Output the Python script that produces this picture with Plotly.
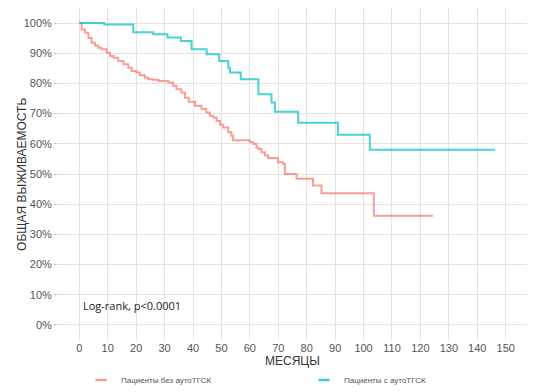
import plotly.graph_objects as go

# Kaplan-Meier estimates (months, survival fraction)
months_no_asct = [0, 0.8, 2.0, 3.2, 4.3, 5.5, 6.7, 7.8, 9.6, 10.8, 12.0, 13.7, 15.5, 17.2,
                  18.4, 20.1, 21.3, 23.1, 24.3, 26.0, 27.8, 31.3, 33.0, 34.2, 35.9, 37.2,
                  38.5, 40.7, 43.0, 44.7, 45.9, 47.1, 48.3, 49.5, 50.6, 52.4, 53.5, 54.1,
                  60.0, 61.2, 62.3, 63.0, 64.1, 65.3, 66.4, 69.9, 71.7, 72.3, 76.4, 82.2,
                  85.2, 103.6, 124.4]
surv_no_asct = [1.000, 0.979, 0.968, 0.951, 0.935, 0.926, 0.918, 0.913, 0.902, 0.891, 0.885,
                0.874, 0.864, 0.852, 0.841, 0.836, 0.827, 0.819, 0.814, 0.812, 0.808, 0.803,
                0.792, 0.781, 0.770, 0.753, 0.739, 0.726, 0.715, 0.704, 0.693, 0.687, 0.676,
                0.663, 0.654, 0.638, 0.627, 0.612, 0.605, 0.599, 0.588, 0.583, 0.572, 0.561,
                0.553, 0.539, 0.533, 0.500, 0.484, 0.462, 0.436, 0.362, 0.362]

months_asct = [0, 8.8, 19.0, 26.0, 31.0, 35.7, 39.5, 44.8, 49.2, 52.4, 53.0, 56.8, 63.0,
               67.6, 68.8, 77.0, 91.0, 102.2, 146.3]
surv_asct = [1.000, 0.995, 0.970, 0.963, 0.952, 0.941, 0.913, 0.897, 0.874, 0.852, 0.836,
             0.814, 0.764, 0.737, 0.706, 0.670, 0.630, 0.580, 0.580]

series_names = ["Пациенты без аутоТГСК", "Пациенты с аутоТГСК"]
series_colors = ["#F8766D", "#00BFC4"]

x_ticks = list(range(0, 151, 10))
y_ticks = [i / 10 for i in range(0, 11)]
y_ticklabels = [f"{i * 10}%" for i in range(0, 11)]
x_title = "МЕСЯЦЫ"
y_title = "ОБЩАЯ ВЫЖИВАЕМОСТЬ"

fig = go.Figure()
for xs, ys, name, col in [(months_no_asct, surv_no_asct, series_names[0], series_colors[0]),
                          (months_asct, surv_asct, series_names[1], series_colors[1])]:
    fig.add_trace(go.Scatter(x=xs, y=ys, mode="lines", line=dict(color=col, width=2, shape="hv"),
                             opacity=0.7, showlegend=False, hoverinfo="skip"))
    fig.add_trace(go.Scatter(x=[None], y=[None], mode="markers", name=name,
                             marker=dict(symbol="line-ew", size=8,
                                         line=dict(color=col, width=2.5)),
                             opacity=0.75))

fig.add_annotation(x=0.5, y=0.065, xref="x", yref="y", text="Log-rank, p<0.0001",
                   showarrow=False, xanchor="left", yanchor="middle",
                   font=dict(family="Open Sans, Liberation Sans, sans-serif", size=11, color="#222"))

# axis titles
fig.add_annotation(x=0.5, y=-0.062, xref="paper", yref="paper", text=x_title, showarrow=False,
                   xanchor="center", yanchor="middle",
                   font=dict(family="Liberation Sans, Arial, sans-serif", size=12, color="#333333"))
fig.add_annotation(x=-0.077, y=0.5, xref="paper", yref="paper", text=y_title, showarrow=False,
                   textangle=-90, xanchor="center", yanchor="middle",
                   font=dict(family="Liberation Sans, Arial, sans-serif", size=12, color="#333333"))

# the page adds an 8px body margin, so the figure is sized to the visible area
W, H = 527, 384
grid = "#E3E3E3"
tickfont = dict(family="Liberation Sans, Arial, sans-serif", size=11, color="#555555")
fig.update_layout(
    width=W, height=H,
    margin=dict(l=50, r=8, t=0, b=52, autoexpand=False),
    paper_bgcolor="white", plot_bgcolor="white",
    font=dict(family="Liberation Sans, Arial, sans-serif", color="#333333"),
    xaxis=dict(range=[-7.5, 157.5], tickvals=x_ticks, showgrid=True, gridcolor=grid, gridwidth=1,
               zeroline=False, showline=False, ticks="", tickfont=tickfont, automargin=False),
    yaxis=dict(range=[-0.05, 1.05], tickvals=y_ticks, ticktext=y_ticklabels, showgrid=True,
               gridcolor=grid, gridwidth=1, zeroline=False, showline=False,
               ticks="outside", ticklen=3, tickcolor="#BBBBBB", tickfont=tickfont,
               automargin=False),
    legend=dict(orientation="h", x=73 / W, xref="container", xanchor="left",
                y=12 / H, yref="container", yanchor="middle",
                entrywidth=178, entrywidthmode="pixels",
                font=dict(family="Liberation Sans, Arial, sans-serif", size=8, color="#555555"),
                bgcolor="rgba(0,0,0,0)"),
)

fig.write_html("out.html")
